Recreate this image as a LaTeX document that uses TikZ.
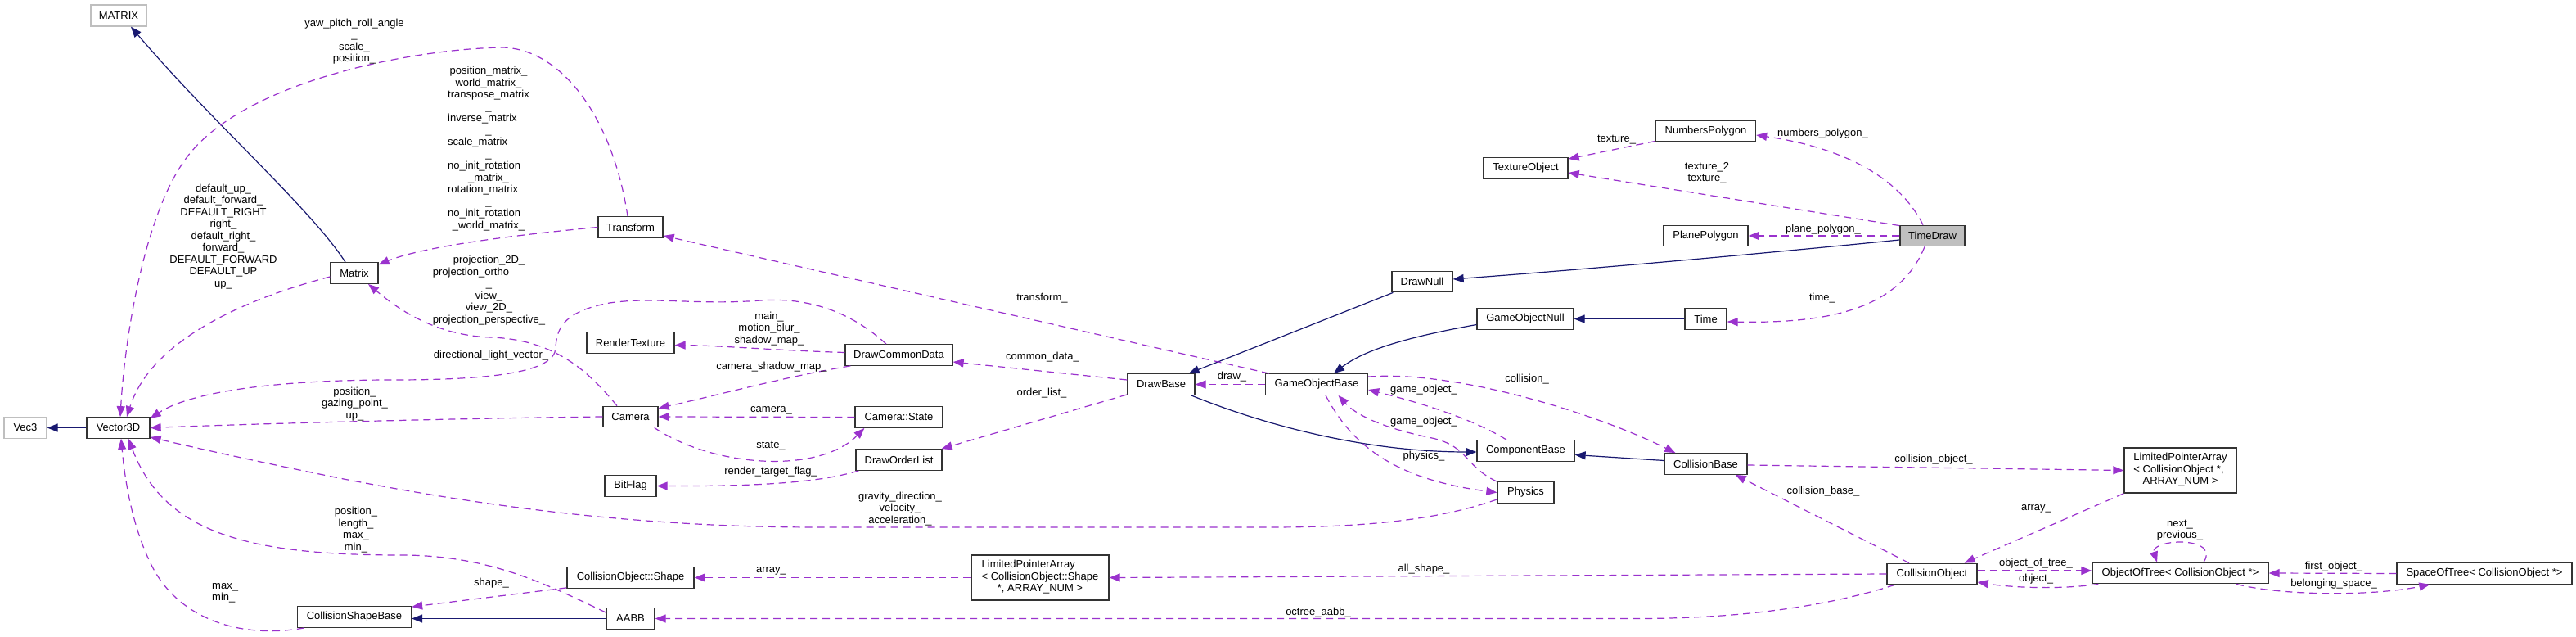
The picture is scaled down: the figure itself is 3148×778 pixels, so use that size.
\documentclass[tikz,border=0pt]{standalone}
\usepackage{fontspec}
\setmainfont{Liberation Sans}
\usetikzlibrary{arrows.meta,calc}
\definecolor{deppurple}{HTML}{9A32CD}
\definecolor{inhnavy}{HTML}{191970}
\definecolor{boxgray}{HTML}{333333}
\definecolor{extgray}{HTML}{BFBFBF}
\newcommand\dxfont{\fontsize{13pt}{14.5pt}\selectfont}
\newcommand\lft[1]{\multicolumn{1}{@{}l@{}}{#1}}
\tikzset{
  cls/.style={draw=boxgray, fill=white, line width=1.3pt, rectangle, inner sep=0pt,
    minimum height=25.5pt, font=\dxfont, text=black},
  ext/.style={cls, draw=extgray},
  lbl/.style={inner sep=0pt, align=center, font=\dxfont, text=black},
  dep/.style={draw=deppurple, line width=1.2pt, dash pattern=on 9pt off 6pt,
    -{Triangle[length=13pt,width=10pt]}},
  inh/.style={draw=inhnavy, line width=1.2pt, -{Triangle[length=13pt,width=10pt]}}
}
\begin{document}
\begin{tikzpicture}[x=1pt,y=-1pt]
\useasboundingbox (0,0) rectangle (3148,778);
\fill[white] (0,0) rectangle (3148,778);

% ---------- nodes ----------
\node[ext,minimum width=68pt,minimum height=26pt] (MATRIX) at (145,19) {MATRIX};
\node[ext,minimum width=52pt] (Vec3) at (31,522.5) {Vec3};
\node[cls,minimum width=77pt] (Vector3D) at (144.5,522.5) {Vector3D};
\node[cls,minimum width=58pt] (Matrix) at (433,333.5) {Matrix};
\node[cls,minimum width=79pt] (Transform) at (770.5,277.5) {Transform};
\node[cls,minimum width=139pt] (CSB) at (433,753.5) {CollisionShapeBase};
\node[cls,minimum width=107pt] (RT) at (770.5,418.5) {RenderTexture};
\node[cls,minimum width=67pt] (Camera) at (770.5,509) {Camera};
\node[cls,minimum width=63pt] (BitFlag) at (770.5,593.5) {BitFlag};
\node[cls,minimum width=155pt] (CShape) at (770.5,705.5) {CollisionObject::Shape};
\node[cls,minimum width=59pt] (AABB) at (770.5,755.5) {AABB};
\node[cls,minimum width=131pt] (DCD) at (1098.5,433.5) {DrawCommonData};
\node[cls,minimum width=107pt] (CState) at (1098.5,509.5) {Camera::State};
\node[cls,minimum width=105pt] (DOL) at (1098.5,561.5) {DrawOrderList};
\node[cls,minimum width=168pt,minimum height=55pt] (LPAS) at (1271,705.5)
  {\begin{tabular}{@{}l@{}}LimitedPointerArray\\< CollisionObject::Shape\\\multicolumn{1}{@{}c@{}}{*, ARRAY\_NUM >}\end{tabular}};
\node[cls,minimum width=82pt] (DrawBase) at (1419,469.5) {DrawBase};
\node[cls,minimum width=125pt] (GOB) at (1609,469.5) {GameObjectBase};
\node[cls,minimum width=74pt] (DrawNull) at (1738,344) {DrawNull};
\node[cls,minimum width=118pt] (GON) at (1864,389.5) {GameObjectNull};
\node[cls,minimum width=103pt] (TexObj) at (1864.5,205.5) {TextureObject};
\node[cls,minimum width=119pt] (CompBase) at (1864.5,550.5) {ComponentBase};
\node[cls,minimum width=69pt] (Physics) at (1864.5,601.5) {Physics};
\node[cls,minimum width=122pt] (NumPoly) at (2084.5,160) {NumbersPolygon};
\node[cls,minimum width=103pt] (PlanePoly) at (2084.5,288) {PlanePolygon};
\node[cls,minimum width=51pt] (Time) at (2084.5,389.5) {Time};
\node[cls,minimum width=101pt] (CollBase) at (2084.5,566.5) {CollisionBase};
\node[cls,minimum width=79pt,fill=extgray] (TimeDraw) at (2361.5,288) {TimeDraw};
\node[cls,minimum width=110pt] (CollObj) at (2361,701) {CollisionObject};
\node[cls,minimum width=137pt,minimum height=55pt] (LPAC) at (2664.5,574.5)
  {\begin{tabular}{@{}l@{}}LimitedPointerArray\\< CollisionObject *,\\\multicolumn{1}{@{}c@{}}{ARRAY\_NUM >}\end{tabular}};
\node[cls,minimum width=215pt] (OoT) at (2664.5,700) {ObjectOfTree< CollisionObject *>};
\node[cls,minimum width=214pt] (SoT) at (3036,700.5) {SpaceOfTree< CollisionObject *>};

% ---------- inheritance (navy) ----------
\draw[inh] ($(Matrix.north)+(-11,0)$) .. controls (380,255) and (260,150) .. ($(MATRIX.south)+(15,0)$);
\draw[inh] (Vector3D.west) -- (Vec3.east);
\draw[inh] (AABB.west) -- ($(CSB.east)+(0,2)$);
\draw[inh] ($(DrawNull.south west)+(2,0)$) -- ($(DrawBase.north east)+(-8,0)$);
\draw[inh] ($(TimeDraw.west)+(0,5)$) .. controls (2150,310) and (1950,328) .. ($(DrawNull.east)+(0,-3)$);
\draw[inh] ($(DrawBase.south east)+(-5,0)$) .. controls (1560,525) and (1680,552) .. ($(CompBase.west)+(0,1.5)$);
\draw[inh] ($(GON.west)+(0,7)$) .. controls (1730,410) and (1670,425) .. ($(GOB.north)+(21,0)$);
\draw[inh] (Time.west) -- (GON.east);
\draw[inh] ($(CollBase.west)+(0,-4)$) -- ($(CompBase.east)+(0,5)$);

% ---------- usage (purple dashed) ----------
\draw[dep] ($(Transform.north)+(-3.5,0)$) .. controls (750,150) and (690,60) .. (614,58)
  .. controls (500,60) and (300,100) .. (230,190)
  .. controls (175,260) and (152,420) .. ($(Vector3D.north)+(2.5,0)$);
\draw[dep] ($(Matrix.west)+(0,4.5)$) .. controls (300,365) and (185,415) .. ($(Vector3D.north)+(10.5,0)$);
\draw[dep] (Camera.west) .. controls (550,511) and (300,518) .. (Vector3D.east);
\draw[dep] ($(DCD.north)+(-15.5,0)$) .. controls (1050,390) and (1000,362) .. (930,367)
  .. controls (850,373) and (800,362) .. (745,370)
  .. controls (690,380) and (680,400) .. (679,425)
  .. controls (678,455) and (600,464) .. (480,464)
  .. controls (330,464) and (230,480) .. ($(Vector3D.north east)+(0,2)$);
\draw[dep] ($(Physics.west)+(0,8.5)$) .. controls (1750,638) and (1650,644) .. (1550,644) -- (1000,644)
  .. controls (750,644) and (550,610) .. (420,585)
  .. controls (320,565) and (230,545) .. ($(Vector3D.south east)+(0,-2)$);
\draw[dep] ($(CSB.south west)+(9,0)$) .. controls (300,780) and (220,760) .. (185,690)
  .. controls (160,640) and (152,580) .. ($(Vector3D.south)+(3.5,0)$);
\draw[dep] ($(AABB.west)+(0,-7.5)$) .. controls (670,715) and (600,678) .. (490,678)
  .. controls (300,678) and (200,650) .. ($(Vector3D.south)+(12.5,0)$);
\draw[dep] (Transform.west) .. controls (640,286) and (520,300) .. ($(Matrix.north east)+(0,3)$);
\draw[dep] ($(Camera.north)+(-16.5,0)$) .. controls (720,455) and (680,415) .. (600,412)
  .. controls (540,410) and (495,385) .. ($(Matrix.south)+(17,0)$);
\draw[dep] ($(GOB.north west)+(5,0)$) -- ($(Transform.south east)+(0,-3)$);
\draw[dep] ($(DCD.west)+(0,-3)$) .. controls (950,428) and (880,422) .. ($(RT.east)+(0,3)$);
\draw[dep] ($(DCD.south west)+(7,0)$) .. controls (960,460) and (880,482) .. ($(Camera.north east)+(0,3)$);
\draw[dep] (CState.west) -- (Camera.east);
\draw[dep] ($(Camera.south east)+(-5,0)$) .. controls (870,570) and (1000,580) .. ($(CState.south west)+(12,0)$);
\draw[dep] ($(DOL.south west)+(4,0)$) .. controls (1000,590) and (920,594) .. (BitFlag.east);
\draw[dep] ($(DrawBase.west)+(0,-5.5)$) -- ($(DCD.east)+(0,8.5)$);
\draw[dep] ($(DrawBase.south west)+(0,-1)$) -- ($(DOL.north east)+(-1,0)$);
\draw[dep] (GOB.west) -- (DrawBase.east);
\draw[dep] ($(GOB.north east)+(0,4)$) .. controls (1780,452) and (1950,505) .. ($(CollBase.north west)+(14,0)$);
\draw[dep] ($(CompBase.north)+(-23.5,0)$) .. controls (1800,512) and (1740,493) .. ($(GOB.east)+(0,6.5)$);
\draw[dep] (Physics.north west) .. controls (1790,570) and (1795,545) .. (1750,535)
  .. controls (1700,525) and (1660,510) .. ($(GOB.south)+(26.5,0)$);
\draw[dep] ($(GOB.south)+(11,0)$) .. controls (1650,540) and (1700,585) .. (Physics.west);
\draw[dep] ($(CollBase.east)+(0,1.5)$) -- (LPAC.west);
\draw[dep] ($(CollObj.north)+(-28,0)$) -- ($(CollBase.south east)+(-15,0)$);
\draw[dep] (LPAC.south west) -- ($(CollObj.north east)+(-16,0)$);
\draw[dep] ($(CollObj.east)+(0,-4)$) -- ($(OoT.west)+(0,-3)$);
\draw[dep] ($(OoT.south west)+(8,0)$) .. controls (2520,720) and (2460,718) .. ($(CollObj.east)+(0,10)$);
\draw[dep] ($(OoT.north)+(28.5,0)$) .. controls (2705,668) and (2682,662) .. (2664,662)
  .. controls (2646,662) and (2630,668) .. ($(OoT.north)+(-28.5,0)$);
\draw[dep] (SoT.west) -- (OoT.east);
\draw[dep] ($(OoT.south)+(68.5,0)$) .. controls (2790,728) and (2900,728) .. ($(SoT.south west)+(41,0)$);
\draw[dep] (CollObj.west) -- (LPAS.east);
\draw[dep] (LPAS.west) -- (CShape.east);
\draw[dep] ($(CollObj.south west)+(10,0)$) .. controls (2250,735) and (2150,755.5) .. (2000,755.5) -- (AABB.east);
\draw[dep] ($(CShape.south west)+(0,-1)$) -- ($(CSB.north east)+(0,1)$);
\draw[dep] ($(TimeDraw.north)+(-11.5,0)$) .. controls (2320,215) and (2250,180) .. ($(NumPoly.east)+(0,5)$);
\draw[dep] ($(NumPoly.south west)+(0,-1)$) -- ($(TexObj.north east)+(0,2)$);
\draw[dep] ($(TimeDraw.north west)+(0,1)$) -- ($(TexObj.east)+(0,5.5)$);
\draw[dep] (TimeDraw.west) -- (PlanePoly.east);
\draw[dep] ($(TimeDraw.south)+(-9.5,0)$) .. controls (2320,380) and (2230,395) .. ($(Time.east)+(0,3.5)$);

% ---------- labels ----------
\node[lbl] (l1) at (433,50.75) {yaw\_pitch\_roll\_angle\\\_\\scale\_\\position\_};
\node[lbl] (l2) at (597,182.25) {\begin{tabular}{@{}c@{}}position\_matrix\_\\world\_matrix\_\\transpose\_matrix\\\_\\\lft{inverse\_matrix}\\\_\\\lft{scale\_matrix}\\\_\\\lft{no\_init\_rotation}\\\_matrix\_\\\lft{rotation\_matrix}\\\_\\\lft{no\_init\_rotation}\\\_world\_matrix\_\end{tabular}};
\node[lbl] (l3) at (597.5,355.25) {\begin{tabular}{@{}c@{}}projection\_2D\_\\\lft{projection\_ortho}\\\_\\view\_\\view\_2D\_\\projection\_perspective\_\end{tabular}};
\node[lbl] (l4) at (273,289) {default\_up\_\\default\_forward\_\\DEFAULT\_RIGHT\\right\_\\default\_right\_\\forward\_\\DEFAULT\_FORWARD\\DEFAULT\_UP\\up\_};
\node[lbl] (l5) at (433.5,493.5) {position\_\\gazing\_point\_\\up\_};
\node[lbl] (l6) at (600,434) {directional\_light\_vector\_};
\node[lbl] (l7) at (435,647) {position\_\\length\_\\max\_\\min\_};
\node[lbl,align=left,anchor=west] (l8) at (259,724.5) {max\_\\min\_};
\node[lbl] (l9) at (600.5,712) {shape\_};
\node[lbl] (l10) at (940,401.5) {main\_\\motion\_blur\_\\shadow\_map\_};
\node[lbl] (l11) at (943,448) {camera\_shadow\_map\_};
\node[lbl] (l12) at (942.5,501) {camera\_};
\node[lbl] (l13) at (942,545) {state\_};
\node[lbl] (l14) at (942,576) {render\_target\_flag\_};
\node[lbl] (l15) at (942.5,697) {array\_};
\node[lbl] (l16) at (1274,436) {common\_data\_};
\node[lbl] (l17) at (1273,480) {order\_list\_};
\node[lbl] (l18) at (1100,621.5) {gravity\_direction\_\\velocity\_\\acceleration\_};
\node[lbl] (l19) at (1273.5,364) {transform\_};
\node[lbl] (l20) at (1505.5,460) {draw\_};
\node[lbl] (l21) at (1611,748) {octree\_aabb\_};
\node[lbl] (l22) at (1740,695) {all\_shape\_};
\node[lbl] (l23) at (1866,463) {collision\_};
\node[lbl] (l24) at (1740,476) {game\_object\_};
\node[lbl] (l25) at (1740,515) {game\_object\_};
\node[lbl] (l26) at (1740,557) {physics\_};
\node[lbl] (l27) at (1975.5,171) {texture\_};
\node[lbl] (l28) at (2086,211.5) {texture\_2\\texture\_};
\node[lbl] (l29) at (2227.5,163) {numbers\_polygon\_};
\node[lbl] (l30) at (2228,280) {plane\_polygon\_};
\node[lbl] (l31) at (2227,364) {time\_};
\node[lbl] (l32) at (2363,561) {collision\_object\_};
\node[lbl] (l33) at (2228,600) {collision\_base\_};
\node[lbl] (l34) at (2488.5,621) {array\_};
\node[lbl] (l35) at (2488,688) {object\_of\_tree\_};
\node[lbl] (l36) at (2488,707) {object\_};
\node[lbl] (l37) at (2664,647.5) {next\_\\previous\_};
\node[lbl] (l38) at (2852,692) {first\_object\_};
\node[lbl] (l39) at (2852,713) {belonging\_space\_};
\end{tikzpicture}
\end{document}
